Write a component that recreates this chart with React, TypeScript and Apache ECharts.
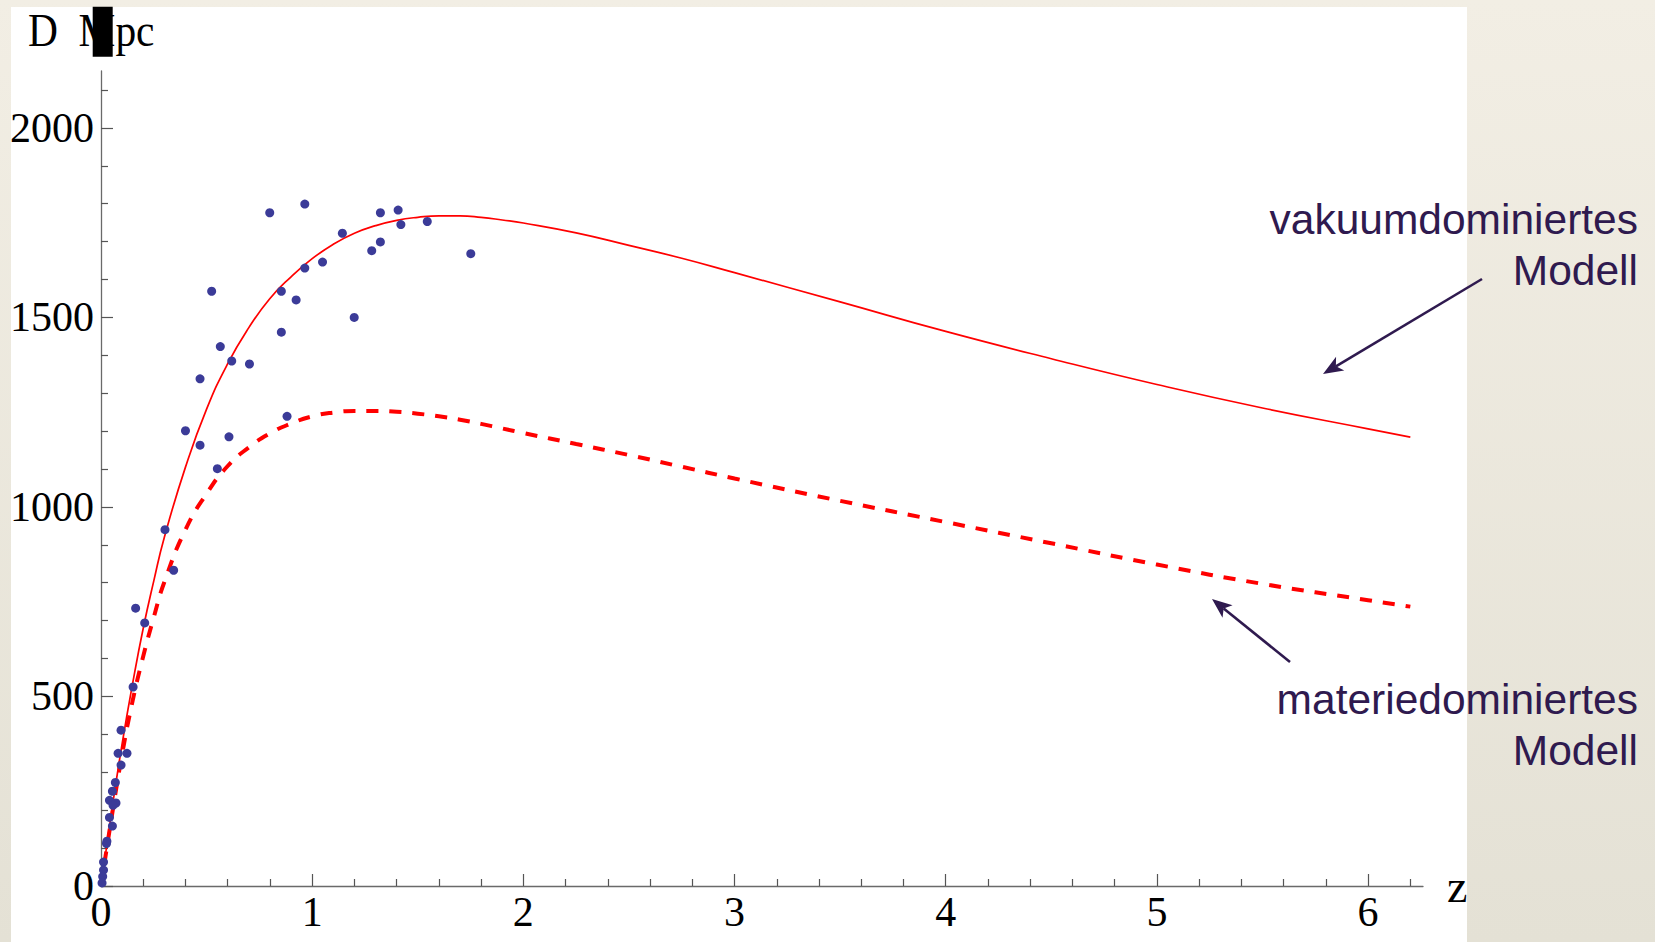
import React, { useEffect, useRef } from "react";
import * as echarts from "echarts";

// Vacuum-dominated model curve
const vacuumZ = [0, 0.05, 0.1, 0.15, 0.2, 0.25, 0.3, 0.4, 0.5, 0.6, 0.7, 0.8, 0.9, 1.0, 1.1, 1.2, 1.3, 1.4, 1.5, 1.6, 1.7, 1.8, 1.9, 2.0, 2.25, 2.5, 2.75, 3.0, 3.5, 4.0, 4.5, 5.0, 5.5, 6.0, 6.2];
const vacuumD = [0, 195, 375, 535, 680, 805, 920, 1105, 1258, 1378, 1473, 1550, 1607, 1655, 1693, 1722, 1742, 1756, 1764, 1768, 1768, 1764, 1757, 1749, 1723, 1690, 1656, 1618, 1541, 1463, 1391, 1323, 1261, 1206, 1184];

// Matter-dominated model curve
const matterZ = [0, 0.05, 0.1, 0.15, 0.2, 0.25, 0.3, 0.4, 0.5, 0.6, 0.7, 0.8, 0.9, 1.0, 1.1, 1.2, 1.3, 1.4, 1.5, 1.6, 1.7, 1.8, 1.9, 2.0, 2.25, 2.5, 2.75, 3.0, 3.5, 4.0, 4.5, 5.0, 5.5, 6.0, 6.2];
const matterD = [0, 180, 347, 489, 606, 709, 802, 940, 1035, 1108, 1157, 1194, 1220, 1239, 1249, 1253, 1253, 1251, 1246, 1239, 1230, 1219, 1207, 1195, 1166, 1137, 1106, 1075, 1016, 960, 904, 848, 797, 754, 737];

// Supernova data points
const snZ = [0.799, 0.965, 1.323, 1.407, 1.42, 1.545, 1.143, 1.282, 1.323, 1.751, 1.049, 0.965, 0.524, 0.854, 0.924, 1.199, 0.854, 0.565, 0.619, 0.703, 0.469, 0.881, 0.4, 0.469, 0.606, 0.551, 0.303, 0.344, 0.164, 0.207, 0.152, 0.095, 0.081, 0.123, 0.095, 0.068, 0.054, 0.04, 0.071, 0.057, 0.04, 0.054, 0.028, 0.026, 0.012, 0.012, 0.008, 0.005];
const snD = [1776, 1799, 1776, 1783, 1745, 1753, 1722, 1676, 1699, 1668, 1646, 1630, 1569, 1569, 1546, 1500, 1461, 1423, 1385, 1377, 1338, 1239, 1201, 1163, 1185, 1101, 940, 833, 733, 694, 525, 411, 350, 350, 319, 273, 250, 226, 219, 213, 181, 158, 118, 112, 63, 42, 25, 8];

// Axis ticks
const xMajor = [0, 1, 2, 3, 4, 5, 6];
const xMinor = [0.2, 0.4, 0.6, 0.8, 1.2, 1.4, 1.6, 1.8, 2.2, 2.4, 2.6, 2.8, 3.2, 3.4, 3.6, 3.8, 4.2, 4.4, 4.6, 4.8, 5.2, 5.4, 5.6, 5.8, 6.2];
const yMajor = [0, 500, 1000, 1500, 2000];
const yMinor = [100, 200, 300, 400, 600, 700, 800, 900, 1100, 1200, 1300, 1400, 1600, 1700, 1800, 1900, 2100];

const X_MAX = 6.26;
const Y_MAX = 2150;

const SERIF = "'Liberation Serif', 'Times New Roman', serif";
const SANS = "'Liberation Sans', Arial, sans-serif";
const ANNOT = "#2f1a4f";

function arrow(x1: number, y1: number, tx: number, ty: number) {
  const dx = tx - x1;
  const dy = ty - y1;
  const len = Math.sqrt(dx * dx + dy * dy);
  const ux = dx / len;
  const uy = dy / len;
  const nx = -uy;
  const ny = ux;
  const L = 20;
  const W = 8;
  const bx = tx - ux * L;
  const by = ty - uy * L;
  const notchX = bx + ux * 5;
  const notchY = by + uy * 5;
  return [
    {
      type: "line",
      shape: { x1, y1, x2: notchX, y2: notchY },
      style: { stroke: ANNOT, lineWidth: 2.6 },
    },
    {
      type: "polygon",
      shape: {
        points: [
          [tx, ty],
          [bx + nx * W, by + ny * W],
          [notchX, notchY],
          [bx - nx * W, by - ny * W],
        ],
      },
      style: { fill: ANNOT },
    },
  ];
}

export default function App() {
  const ref = useRef<HTMLDivElement>(null);

  useEffect(() => {
    if (!ref.current) return;
    const chart = echarts.init(ref.current, undefined, { renderer: "svg" });

    const axisLineStyle = { color: "#6a6a6a", width: 1.3 };
    const tickStyle = { color: "#555", width: 1.2 };
    const plain = (v: number) => String(v);

    const option: any = {
      animation: false,
      grid: { left: 101, right: 232, top: 71, bottom: 56, outerBoundsMode: "none" },
      xAxis: [
        {
          type: "value",
          min: 0,
          max: X_MAX,
          name: "z",
          nameLocation: "end",
          nameGap: 24,
          nameTextStyle: { fontFamily: SERIF, fontSize: 46, color: "#000" },
          axisLine: { show: true, onZero: false, lineStyle: axisLineStyle },
          axisTick: { show: true, inside: true, length: 12, customValues: xMajor, lineStyle: tickStyle },
          axisLabel: { customValues: xMajor, formatter: plain, fontFamily: SERIF, fontSize: 42, color: "#000", margin: 5 },
          splitLine: { show: false },
        },
        {
          type: "value",
          min: 0,
          max: X_MAX,
          position: "bottom",
          axisLine: { show: false },
          axisTick: { show: true, inside: true, length: 7, customValues: xMinor, lineStyle: tickStyle },
          axisLabel: { show: false },
          splitLine: { show: false },
        },
      ],
      yAxis: [
        {
          type: "value",
          min: 0,
          max: Y_MAX,
          axisLine: { show: true, onZero: false, lineStyle: axisLineStyle },
          axisTick: { show: true, inside: true, length: 12, customValues: yMajor, lineStyle: tickStyle },
          axisLabel: { customValues: yMajor, formatter: plain, fontFamily: SERIF, fontSize: 42, color: "#000", margin: 7 },
          splitLine: { show: false },
        },
        {
          type: "value",
          min: 0,
          max: Y_MAX,
          position: "left",
          axisLine: { show: false },
          axisTick: { show: true, inside: true, length: 7, customValues: yMinor, lineStyle: tickStyle },
          axisLabel: { show: false },
          splitLine: { show: false },
        },
      ],
      series: [
        {
          name: "vakuumdominiertes Modell",
          type: "line",
          data: vacuumZ.map((z, i) => [z, vacuumD[i]]),
          smooth: 0.5,
          showSymbol: false,
          lineStyle: { color: "#ff0000", width: 1.7 },
          z: 2,
        },
        {
          name: "materiedominiertes Modell",
          type: "line",
          data: matterZ.map((z, i) => [z, matterD[i]]),
          smooth: 0.5,
          showSymbol: false,
          lineStyle: { color: "#ff0000", width: 4, type: [12, 11], cap: "butt" },
          z: 2,
        },
        {
          name: "Supernovae",
          type: "scatter",
          data: snZ.map((z, i) => [z, snD[i]]),
          symbol: "circle",
          symbolSize: 9,
          itemStyle: { color: "#3b3b98", opacity: 1 },
          z: 3,
        },
      ],
      graphic: [
        {
          type: "text",
          x: 28,
          y: 7,
          scaleX: 0.9,
          style: { text: "D  Mpc", fontFamily: SERIF, fontSize: 46, fill: "#000", verticalAlign: "top" },
        },
        {
          type: "rect",
          shape: { x: 92.7, y: 6.7, width: 20, height: 50 },
          style: { fill: "#000" },
        },
        {
          type: "text",
          x: 1638,
          y: 219,
          style: { text: "vakuumdominiertes", fontFamily: SANS, fontSize: 42.5, fill: ANNOT, align: "right", verticalAlign: "middle" },
        },
        {
          type: "text",
          x: 1638,
          y: 270,
          style: { text: "Modell", fontFamily: SANS, fontSize: 42.5, fill: ANNOT, align: "right", verticalAlign: "middle" },
        },
        {
          type: "text",
          x: 1638,
          y: 699,
          style: { text: "materiedominiertes", fontFamily: SANS, fontSize: 42.5, fill: ANNOT, align: "right", verticalAlign: "middle" },
        },
        {
          type: "text",
          x: 1638,
          y: 750,
          style: { text: "Modell", fontFamily: SANS, fontSize: 42.5, fill: ANNOT, align: "right", verticalAlign: "middle" },
        },
        ...arrow(1482, 279, 1323, 374),
        ...arrow(1290, 662, 1212, 599),
      ],
    };

    chart.setOption(option);
    return () => {
      chart.dispose();
    };
  }, []);

  return (
    <div
      style={{
        position: "fixed",
        left: 0,
        top: 0,
        width: 1655,
        height: 942,
        background: "linear-gradient(180deg, #f2eee4 0%, #e4e1d5 100%)",
      }}
    >
      <div
        style={{
          position: "absolute",
          left: 11,
          top: 7,
          width: 1456,
          height: 935,
          background: "#ffffff",
        }}
      />
      <div ref={ref} style={{ position: "absolute", left: 0, top: 0, width: 1655, height: 942 }} />
    </div>
  );
}
